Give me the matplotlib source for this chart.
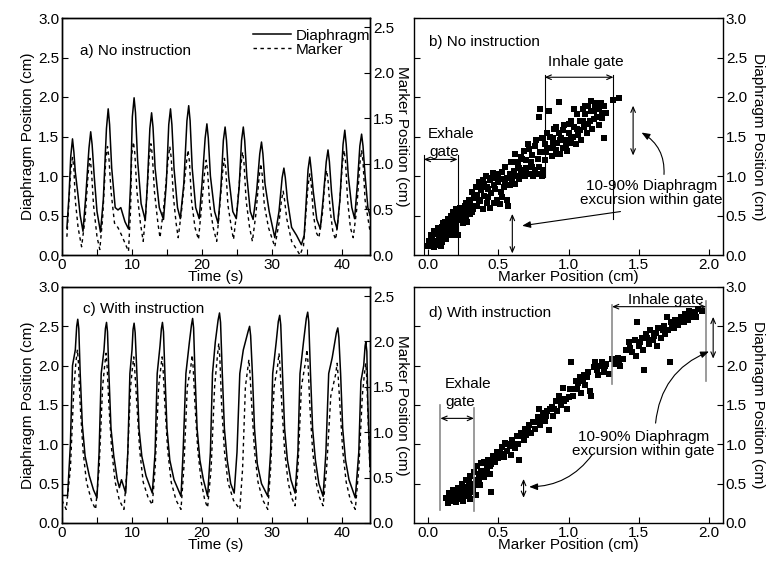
import matplotlib
matplotlib.use("Agg")
import matplotlib.pyplot as plt
from matplotlib.ticker import MultipleLocator, FormatStrFormatter

plt.rcParams["font.family"] = ["Liberation Sans", "DejaVu Sans"]
plt.rcParams["font.size"] = 11

# ---- a) No instruction: (time s, position cm)
a_diaph_pts = [
    (0.7, .34), (1.0, .75), (1.25, 1.25), (1.5, 1.47), (1.7, 1.30), (1.9, 1.05), (2.3, .75),
    (2.6, .50), (3.0, .30), (3.4, .75), (3.85, 1.35), (4.1, 1.56), (4.3, 1.40), (4.6, 1.00),
    (5.0, .55), (5.5, .29), (5.9, .70), (6.35, 1.60), (6.6, 1.85), (6.8, 1.65), (7.1, 1.10),
    (7.6, .60), (8.0, .57), (8.4, .60), (9.0, .42), (9.5, .33), (9.8, .90), (10.05, 1.75),
    (10.3, 1.99), (10.5, 1.80), (10.8, 1.20), (11.3, .65), (11.9, .44), (12.2, .90),
    (12.55, 1.60), (12.8, 1.80), (13.0, 1.62), (13.3, 1.10), (13.9, .60), (14.5, .45),
    (14.9, .90), (15.25, 1.65), (15.5, 1.85), (15.7, 1.65), (16.0, 1.10), (16.5, .60),
    (16.9, .46), (17.4, .90), (17.85, 1.70), (18.1, 1.89), (18.3, 1.70), (18.6, 1.10),
    (19.1, .60), (19.6, .46), (20.0, .90), (20.45, 1.48), (20.7, 1.66), (20.9, 1.48),
    (21.2, 1.00), (21.8, .55), (22.3, .40), (22.7, .85), (23.05, 1.45), (23.3, 1.62),
    (23.5, 1.45), (23.8, 1.00), (24.4, .55), (24.9, .46), (25.3, .85), (25.65, 1.45),
    (25.9, 1.62), (26.1, 1.45), (26.4, 1.00), (26.9, .55), (27.3, .45), (27.8, .80),
    (28.25, 1.28), (28.5, 1.43), (28.7, 1.28), (29.0, .90), (29.6, .55), (30.4, .22),
    (31.0, .55), (31.45, .98), (31.7, 1.10), (31.9, .98), (32.2, .70), (32.8, .35),
    (33.5, .25), (34.2, .13), (34.6, .25), (35.15, 1.08), (35.4, 1.24), (35.6, 1.08),
    (35.9, .80), (36.4, .45), (36.9, .33), (37.3, .70), (37.75, 1.18), (38.0, 1.33),
    (38.2, 1.18), (38.5, .80), (38.9, .45), (39.3, .33), (39.7, .70), (40.15, 1.40),
    (40.4, 1.58), (40.6, 1.40), (40.9, 1.00), (41.4, .60), (41.8, .46), (42.2, .90),
    (42.55, 1.38), (42.8, 1.53), (43.0, 1.38), (43.3, 1.00), (43.7, .60), (44.0, .50),
]
a_marker_pts = [
    (0.7, .20), (1.0, .60), (1.25, .92), (1.5, 1.07), (1.7, .95), (1.9, .60), (2.3, .30),
    (2.8, .09), (3.3, .40), (3.75, .91), (4.0, 1.06), (4.2, .94), (4.5, .55), (5.0, .20),
    (5.4, .06), (5.8, .40), (6.25, 1.04), (6.5, 1.19), (6.7, 1.07), (7.0, .70), (7.5, .35),
    (8.0, .30), (8.5, .22), (9.5, .04), (9.8, .50), (9.95, 1.09), (10.2, 1.24), (10.4, 1.12),
    (10.7, .70), (11.2, .35), (11.6, .15), (12.0, .50), (12.45, 1.07), (12.7, 1.22),
    (12.9, 1.10), (13.2, .70), (13.7, .35), (14.0, .19), (14.5, .50), (15.15, 1.04),
    (15.4, 1.19), (15.6, 1.07), (15.9, .65), (16.3, .35), (16.6, .19), (17.1, .50),
    (17.75, 1.00), (18.0, 1.15), (18.2, 1.03), (18.5, .60), (19.0, .30), (19.5, .17),
    (19.9, .50), (20.35, .89), (20.6, 1.04), (20.8, .92), (21.1, .55), (21.6, .30),
    (22.1, .15), (22.5, .50), (22.95, .91), (23.2, 1.06), (23.4, .94), (23.7, .55),
    (24.2, .30), (24.5, .17), (25.0, .50), (25.55, .98), (25.8, 1.13), (26.0, 1.01),
    (26.3, .60), (26.8, .30), (27.2, .15), (27.7, .45), (28.15, .85), (28.4, 1.00),
    (28.6, .88), (28.9, .55), (29.5, .30), (30.4, .09), (31.0, .35), (31.35, .60),
    (31.6, .70), (31.8, .60), (32.1, .40), (32.8, .15), (33.6, .05), (34.0, .00), (34.5, .10),
    (35.15, .76), (35.4, .89), (35.6, .78), (35.9, .45), (36.3, .25), (36.7, .19), (37.2, .45),
    (37.55, .80), (37.8, .93), (38.0, .82), (38.3, .50), (38.7, .25), (39.1, .17), (39.6, .50),
    (40.05, 1.00), (40.3, 1.15), (40.5, 1.03), (40.8, .60), (41.2, .30), (41.6, .19),
    (42.1, .50), (42.55, 1.00), (42.8, 1.15), (43.0, 1.03), (43.3, .60), (44.0, .26),
]

# ---- c) With instruction
c_diaph_pts = [
    (0.0, .35), (0.8, .35), (1.2, 1.00), (1.5, 2.00), (1.9, 2.20), (2.1, 2.50), (2.25, 2.59),
    (2.4, 2.47), (2.6, 1.90), (2.9, 1.25), (3.3, .85), (3.9, .60), (4.5, .42), (5.0, .32),
    (5.3, .90), (5.6, 1.90), (6.0, 2.20), (6.2, 2.47), (6.36, 2.55), (6.5, 2.43), (6.7, 1.90),
    (7.0, 1.20), (7.4, .85), (7.9, .55), (8.2, .45), (8.5, .55), (9.1, .38), (9.4, .90),
    (9.7, 1.90), (10.0, 2.20), (10.15, 2.46), (10.3, 2.54), (10.45, 2.42), (10.7, 1.90),
    (11.0, 1.20), (11.4, .85), (12.0, .60), (12.9, .38), (13.3, .90), (13.6, 1.90),
    (14.0, 2.25), (14.2, 2.47), (14.35, 2.55), (14.5, 2.43), (14.7, 1.90), (15.0, 1.20),
    (15.4, .80), (16.0, .55), (17.0, .34), (17.3, .90), (17.7, 1.90), (18.2, 2.30),
    (18.5, 2.52), (18.66, 2.60), (18.8, 2.48), (19.0, 1.90), (19.3, 1.20), (19.7, .80),
    (20.2, .55), (20.8, .34), (21.2, .90), (21.5, 1.90), (21.9, 2.30), (22.3, 2.58),
    (22.5, 2.67), (22.65, 2.55), (22.9, 1.90), (23.2, 1.20), (23.6, .80), (24.1, .50),
    (24.6, .38), (25.0, .90), (25.4, 1.90), (25.9, 2.20), (26.6, 2.44), (26.8, 2.50),
    (26.95, 2.38), (27.2, 1.90), (27.5, 1.20), (27.9, .75), (28.5, .50), (29.4, .34),
    (29.8, .90), (30.1, 1.90), (30.6, 2.30), (30.9, 2.56), (31.1, 2.64), (31.25, 2.52),
    (31.5, 1.90), (31.8, 1.20), (32.2, .80), (32.7, .55), (33.3, .38), (33.7, .90),
    (34.0, 1.90), (34.5, 2.30), (34.9, 2.60), (35.1, 2.68), (35.25, 2.56), (35.5, 1.90),
    (35.8, 1.20), (36.2, .80), (36.7, .50), (37.3, .34), (37.7, .90), (38.1, 1.90),
    (38.6, 2.10), (39.2, 2.42), (39.4, 2.48), (39.55, 2.36), (39.8, 1.90), (40.1, 1.20),
    (40.5, .80), (41.0, .55), (41.9, .32), (42.4, .90), (42.7, 1.80), (43.1, 2.00),
    (43.3, 2.25), (43.4, 2.30), (43.55, 2.18), (43.7, 1.50), (44.0, .72),
]
c_marker_pts = [
    (0.0, .25), (0.6, .15), (1.2, .60), (1.7, 1.50), (2.0, 1.78), (2.2, 1.91), (2.35, 1.76),
    (2.6, 1.30), (3.0, .80), (3.5, .45), (4.2, .25), (4.8, .15), (5.3, .60), (5.8, 1.50),
    (6.1, 1.74), (6.3, 1.87), (6.45, 1.72), (6.7, 1.30), (7.1, .80), (7.6, .45), (8.2, .25),
    (8.85, .15), (9.3, .60), (9.8, 1.50), (10.05, 1.70), (10.25, 1.83), (10.4, 1.68),
    (10.7, 1.30), (11.1, .80), (11.6, .45), (12.3, .28), (12.9, .20), (13.3, .60),
    (13.8, 1.50), (14.1, 1.70), (14.3, 1.83), (14.45, 1.68), (14.7, 1.30), (15.1, .80),
    (15.6, .45), (16.3, .25), (17.0, .15), (17.4, .60), (17.9, 1.50), (18.4, 1.72),
    (18.6, 1.85), (18.75, 1.70), (19.0, 1.30), (19.4, .80), (19.9, .45), (20.4, .25),
    (20.8, .17), (21.3, .60), (21.8, 1.50), (22.2, 1.84), (22.4, 1.98), (22.55, 1.82),
    (22.8, 1.30), (23.2, .80), (23.7, .45), (24.5, .25), (25.4, .15), (25.8, .60),
    (26.2, 1.50), (26.5, 1.68), (26.7, 1.80), (26.85, 1.65), (27.1, 1.30), (27.5, .80),
    (28.0, .45), (28.7, .25), (29.4, .15), (29.8, .60), (30.3, 1.50), (30.8, 1.73),
    (31.0, 1.87), (31.15, 1.72), (31.4, 1.30), (31.8, .80), (32.3, .45), (32.8, .28),
    (33.3, .19), (33.7, .60), (34.2, 1.50), (34.8, 1.78), (35.0, 1.91), (35.15, 1.76),
    (35.4, 1.30), (35.8, .80), (36.3, .45), (36.8, .28), (37.3, .19), (37.8, .60),
    (38.4, 1.40), (39.1, 1.64), (39.3, 1.76), (39.45, 1.62), (39.7, 1.30), (40.1, .80),
    (40.6, .45), (41.2, .25), (41.9, .15), (42.4, .60), (42.9, 1.40), (43.2, 1.64),
    (43.4, 1.76), (43.55, 1.58), (43.7, 1.20), (44.0, .56),
]

# ---- b) No instruction: (marker cm, diaphragm cm)
b_pts = [
    (0.00, .12), (0.01, .18), (0.02, .14), (0.02, .25), (0.03, .22), (0.04, .10), (0.04, .30),
    (0.05, .17), (0.06, .26), (0.06, .18), (0.07, .13), (0.07, .34), (0.08, .20), (0.08, .30),
    (0.09, .24), (0.09, .12), (0.10, .36), (0.10, .17), (0.11, .28), (0.11, .40), (0.12, .42),
    (0.12, .22), (0.13, .33), (0.13, .20), (0.14, .46), (0.14, .27), (0.15, .38), (0.15, .30),
    (0.16, .50), (0.16, .31), (0.17, .43), (0.17, .25), (0.18, .36), (0.18, .55), (0.19, .47),
    (0.19, .33), (0.20, .40), (0.20, .58), (0.21, .25), (0.21, .52), (0.22, .44), (0.22, .52),
    (0.23, .60), (0.24, .50), (0.24, .45), (0.25, .40), (0.25, .55), (0.26, .62), (0.26, .50),
    (0.27, .46), (0.27, .66), (0.28, .57), (0.28, .42), (0.29, .70), (0.30, .52), (0.30, .64),
    (0.31, .80), (0.31, .55), (0.32, .58), (0.33, .72), (0.33, .62), (0.34, .86), (0.35, .62),
    (0.35, .76), (0.36, .93), (0.36, .70), (0.37, .68), (0.38, .82), (0.38, .88), (0.39, .58),
    (0.39, .95), (0.40, .75), (0.40, .90), (0.41, 1.00), (0.42, .66), (0.42, .86), (0.43, .84),
    (0.43, .74), (0.44, .95), (0.44, .60), (0.45, .78), (0.45, .98), (0.46, 1.04), (0.47, .88),
    (0.47, .66), (0.48, .98), (0.48, .84), (0.49, .70), (0.50, .92), (0.50, 1.02), (0.51, .64),
    (0.52, .96), (0.52, .80), (0.53, 1.05), (0.53, .74), (0.54, .86), (0.55, 1.12), (0.55, .92),
    (0.56, .98), (0.56, .70), (0.57, .62), (0.57, .98), (0.58, 1.02), (0.58, .88), (0.59, 1.18),
    (0.60, .93), (0.60, 1.00), (0.61, 1.06), (0.62, 1.28), (0.62, .90), (0.63, 1.00),
    (0.63, 1.18), (0.64, 1.14), (0.65, .96), (0.65, 1.10), (0.66, 1.04), (0.66, 1.24),
    (0.67, 1.22), (0.68, 1.32), (0.68, 1.08), (0.69, 1.00), (0.70, 1.10), (0.70, 1.20),
    (0.71, 1.40), (0.72, 1.03), (0.72, 1.34), (0.73, 1.18), (0.74, 1.26), (0.74, 1.12),
    (0.75, 1.00), (0.76, 1.08), (0.76, 1.38), (0.77, 1.45), (0.78, 1.03), (0.78, 1.22),
    (0.79, 1.75), (0.79, 1.12), (0.80, 1.85), (0.80, 1.30), (0.81, 1.00), (0.81, 1.48),
    (0.82, 1.08), (0.83, 1.40), (0.83, 1.20), (0.84, 1.30), (0.85, 1.55), (0.85, 1.35),
    (0.86, 1.82), (0.87, 1.35), (0.87, 1.50), (0.88, 1.25), (0.89, 1.48), (0.89, 1.40),
    (0.90, 1.60), (0.91, 1.33), (0.91, 1.62), (0.92, 1.42), (0.92, 1.28), (0.93, 1.94),
    (0.93, 1.55), (0.94, 1.28), (0.94, 1.45), (0.95, 1.48), (0.96, 1.36), (0.96, 1.58),
    (0.97, 1.65), (0.98, 1.45), (0.98, 1.38), (0.99, 1.32), (1.00, 1.55), (1.00, 1.66),
    (1.01, 1.42), (1.02, 1.70), (1.02, 1.48), (1.03, 1.50), (1.04, 1.85), (1.04, 1.62),
    (1.05, 1.40), (1.06, 1.60), (1.06, 1.78), (1.07, 1.52), (1.08, 1.70), (1.08, 1.58),
    (1.09, 1.45), (1.10, 1.85), (1.10, 1.70), (1.11, 1.62), (1.12, 1.78), (1.12, 1.88),
    (1.13, 1.55), (1.14, 1.88), (1.14, 1.66), (1.15, 1.70), (1.16, 1.95), (1.16, 1.82),
    (1.17, 1.60), (1.18, 1.82), (1.18, 1.72), (1.19, 1.90), (1.20, 1.75), (1.20, 1.92),
    (1.21, 1.87), (1.22, 1.65), (1.22, 1.85), (1.23, 1.93), (1.24, 1.80), (1.24, 1.74),
    (1.25, 1.88), (1.25, 1.48), (1.27, 1.80), (1.32, 1.96), (1.36, 1.99),
]

# ---- d) With instruction
d_pts = [
    (0.13, .32), (0.14, .26), (0.15, .38), (0.16, .30), (0.16, .35), (0.17, .34), (0.18, .28),
    (0.18, .42), (0.19, .40), (0.20, .33), (0.20, .27), (0.21, .45), (0.22, .30), (0.22, .40),
    (0.23, .38), (0.24, .50), (0.24, .33), (0.25, .42), (0.25, .28), (0.26, .35), (0.26, .45),
    (0.27, .55), (0.28, .46), (0.28, .34), (0.29, .38), (0.29, .52), (0.30, .60), (0.30, .30),
    (0.31, .50), (0.31, .40), (0.32, .42), (0.33, .65), (0.33, .48), (0.34, .55), (0.34, .35),
    (0.35, .72), (0.36, .62), (0.36, .55), (0.37, .48), (0.38, .76), (0.38, .66), (0.39, .66),
    (0.40, .58), (0.40, .78), (0.41, .65), (0.42, .70), (0.43, .80), (0.44, .62), (0.44, .72),
    (0.45, .40), (0.45, .75), (0.46, .85), (0.47, .80), (0.48, .78), (0.49, .90), (0.50, .82),
    (0.51, .90), (0.52, .88), (0.53, .96), (0.54, .84), (0.55, 1.02), (0.56, .92), (0.57, 1.00),
    (0.58, .98), (0.59, .86), (0.60, 1.06), (0.61, .98), (0.62, .95), (0.63, 1.10), (0.64, 1.00),
    (0.65, .80), (0.66, 1.14), (0.67, 1.10), (0.68, 1.05), (0.69, 1.20), (0.70, 1.12),
    (0.71, 1.18), (0.72, 1.25), (0.73, 1.15), (0.75, 1.28), (0.76, 1.20), (0.77, 1.28),
    (0.78, 1.35), (0.79, 1.45), (0.80, 1.25), (0.81, 1.32), (0.82, 1.40), (0.83, 1.30),
    (0.84, 1.36), (0.85, 1.42), (0.86, 1.18), (0.87, 1.45), (0.88, 1.48), (0.89, 1.36),
    (0.90, 1.45), (0.91, 1.55), (0.92, 1.42), (0.93, 1.62), (0.94, 1.58), (0.95, 1.50),
    (0.96, 1.72), (0.97, 1.55), (0.98, 1.58), (0.99, 1.45), (1.00, 1.60), (1.01, 1.70),
    (1.02, 2.05), (1.03, 1.62), (1.04, 1.70), (1.05, 1.80), (1.06, 1.70), (1.07, 1.78),
    (1.08, 1.85), (1.09, 1.65), (1.10, 1.80), (1.11, 1.88), (1.12, 1.75), (1.13, 1.85),
    (1.14, 1.92), (1.15, 1.68), (1.16, 1.62), (1.18, 1.98), (1.19, 2.05), (1.20, 1.95),
    (1.21, 1.88), (1.22, 2.00), (1.24, 2.05), (1.25, 1.92), (1.26, 2.00), (1.27, 2.02),
    (1.29, 1.90), (1.31, 2.08), (1.33, 2.02), (1.35, 2.10), (1.36, 2.05), (1.37, 2.00),
    (1.39, 2.08), (1.41, 2.20), (1.43, 2.30), (1.44, 2.22), (1.45, 2.18), (1.47, 2.32),
    (1.48, 2.12), (1.49, 2.55), (1.50, 2.25), (1.51, 2.30), (1.52, 2.35), (1.53, 2.20),
    (1.54, 1.95), (1.55, 2.40), (1.56, 2.35), (1.57, 2.28), (1.58, 2.45), (1.60, 2.32),
    (1.61, 2.38), (1.62, 2.42), (1.63, 2.25), (1.64, 2.48), (1.66, 2.35), (1.67, 2.45),
    (1.68, 2.50), (1.69, 2.40), (1.70, 2.62), (1.71, 2.45), (1.72, 2.05), (1.73, 2.55),
    (1.74, 2.52), (1.75, 2.48), (1.76, 2.58), (1.78, 2.52), (1.79, 2.58), (1.80, 2.62),
    (1.82, 2.55), (1.83, 2.66), (1.84, 2.60), (1.85, 2.58), (1.86, 2.70), (1.87, 2.65),
    (1.88, 2.62), (1.90, 2.68), (1.91, 2.62), (1.92, 2.72), (1.95, 2.70),
]

W, H = 770, 563
fig = plt.figure(figsize=(W / 100, H / 100), dpi=100)


def box(l, t, r, b):
    return [l / W, 1 - b / H, (r - l) / W, (b - t) / H]


def style(ax):
    ax.tick_params(which="both", direction="in", length=4, width=0.8, labelsize=11, pad=2)
    for s in ax.spines.values():
        s.set_linewidth(1.0)


def time_panel(ax, d_pts, m_pts, title, tx, ty):
    t_d, d = zip(*d_pts)
    t_m, m = zip(*m_pts)
    ax.plot(t_d, d, color="k", lw=1.1, label="Diaphragm")
    ax2 = ax.twinx()
    ax2.plot(t_m, m, color="k", lw=1.0, ls=(0, (2.5, 2.5)), label="Marker")
    ax.set_xlim(0, 44)
    ax.set_ylim(0, 3.0)
    ax.yaxis.set_major_locator(MultipleLocator(0.5))
    ax.xaxis.set_major_locator(MultipleLocator(10))
    ax.xaxis.set_minor_locator(MultipleLocator(5))
    ax2.set_ylim(0, 2.6)
    ax2.yaxis.set_major_locator(MultipleLocator(0.5))
    ax.yaxis.set_major_formatter(FormatStrFormatter("%.1f"))
    ax2.yaxis.set_major_formatter(FormatStrFormatter("%.1f"))
    ax.set_xlabel("Time (s)", labelpad=-1)
    ax.set_ylabel("Diaphragm Position (cm)", labelpad=2)
    ax2.set_ylabel("Marker Position (cm)", rotation=270, labelpad=11)
    style(ax)
    style(ax2)
    ax.text(tx, ty, title, ha="left", va="center", fontsize=11)
    return ax2


def scatter_panel(ax, pts, title, ty):
    x, y = zip(*pts)
    ax.plot(x, y, "s", ms=4.3, color="k", mew=0)
    ax.set_xlim(-0.1, 2.1)
    ax.set_ylim(0, 3.0)
    ax.xaxis.set_major_locator(MultipleLocator(0.5))
    ax.yaxis.set_major_locator(MultipleLocator(0.5))
    ax.xaxis.set_major_formatter(FormatStrFormatter("%.1f"))
    ax.yaxis.set_major_formatter(FormatStrFormatter("%.1f"))
    style(ax)
    ax.tick_params(left=True, right=True, labelleft=False, labelright=True)
    ax.yaxis.set_label_position("right")
    ax.set_ylabel("Diaphragm Position (cm)", rotation=270, labelpad=13)
    ax.set_xlabel("Marker Position (cm)", labelpad=-1)
    ax.text(0.01, ty, title, ha="left", va="center", fontsize=11)


def dbl(ax, x0, y0, x1, y1):
    ax.annotate("", xy=(x1, y1), xytext=(x0, y0),
                arrowprops=dict(arrowstyle="<->,head_length=0.35,head_width=0.15",
                                color="k", lw=0.8, shrinkA=0, shrinkB=0))


def curved(ax, x0, y0, x1, y1, rad):
    ax.annotate("", xy=(x1, y1), xytext=(x0, y0),
                arrowprops=dict(arrowstyle="-|>,head_length=0.45,head_width=0.18",
                                color="k", lw=0.8, shrinkA=0, shrinkB=0,
                                connectionstyle=f"arc3,rad={rad}"))


TXT = "10-90% Diaphragm\nexcursion within gate"

# panel a
ax_a = fig.add_axes(box(62, 18, 370, 255))
ax_a2 = time_panel(ax_a, a_diaph_pts, a_marker_pts, "a) No instruction", 2.5, 2.58)
h1, l1 = ax_a.get_legend_handles_labels()
h2, l2 = ax_a2.get_legend_handles_labels()
ax_a2.legend(h1 + h2, l1 + l2, loc="upper left", bbox_to_anchor=(0.62, 0.955),
             frameon=False, borderpad=0, borderaxespad=0, handlelength=2.5,
             handletextpad=0.3, labelspacing=0.0, fontsize=11)

# panel c
ax_c = fig.add_axes(box(62, 287, 370, 523))
time_panel(ax_c, c_diaph_pts, c_marker_pts, "c) With instruction", 3.0, 2.72)

# panel b
ax_b = fig.add_axes(box(414, 18, 723, 255))
scatter_panel(ax_b, b_pts, "b) No instruction", 2.69)
for xv, y0, y1 in [(-0.03, 0.0, 1.27), (0.21, 0.0, 1.27), (0.83, 0.99, 2.28), (1.32, 0.45, 2.28)]:
    ax_b.plot([xv, xv], [y0, y1], color="k", lw=0.8)
dbl(ax_b, -0.03, 1.21, 0.21, 1.21)
dbl(ax_b, 0.83, 2.25, 1.32, 2.25)
ax_b.text(0.0, 1.53, "Exhale", ha="left", va="center")
ax_b.text(0.01, 1.31, "gate", ha="left", va="center")
ax_b.text(1.12, 2.44, "Inhale gate", ha="center", va="center")
dbl(ax_b, 1.46, 1.26, 1.46, 1.89)
dbl(ax_b, 0.60, 0.02, 0.60, 0.52)
ax_b.text(1.59, 0.78, TXT, ha="center", va="center", linespacing=1.0)
curved(ax_b, 1.68, 1.02, 1.52, 1.55, 0.3)
curved(ax_b, 1.37, 0.55, 0.67, 0.37, 0.0)

# panel d
ax_d = fig.add_axes(box(414, 287, 723, 523))
scatter_panel(ax_d, d_pts, "d) With instruction", 2.67)
for xv, y0, y1 in [(0.088, 0.17, 1.50), (0.327, 0.15, 1.46), (1.31, 1.77, 2.77), (1.98, 1.80, 2.82)]:
    ax_d.plot([xv, xv], [y0, y1], color="#8a8a8a", lw=1.2)
dbl(ax_d, 0.088, 1.33, 0.327, 1.33)
dbl(ax_d, 1.31, 2.75, 1.98, 2.75)
ax_d.text(0.12, 1.77, "Exhale", ha="left", va="center")
ax_d.text(0.12, 1.54, "gate", ha="left", va="center")
ax_d.text(1.69, 2.84, "Inhale gate", ha="center", va="center")
dbl(ax_d, 2.03, 2.09, 2.03, 2.62)
dbl(ax_d, 0.68, 0.32, 0.68, 0.56)
ax_d.text(1.535, 1.0, TXT, ha="center", va="center", linespacing=1.0)
curved(ax_d, 1.62, 1.27, 2.0, 2.18, -0.3)
curved(ax_d, 1.17, 0.87, 0.72, 0.46, -0.25)

fig.savefig("out.png", dpi=100)
